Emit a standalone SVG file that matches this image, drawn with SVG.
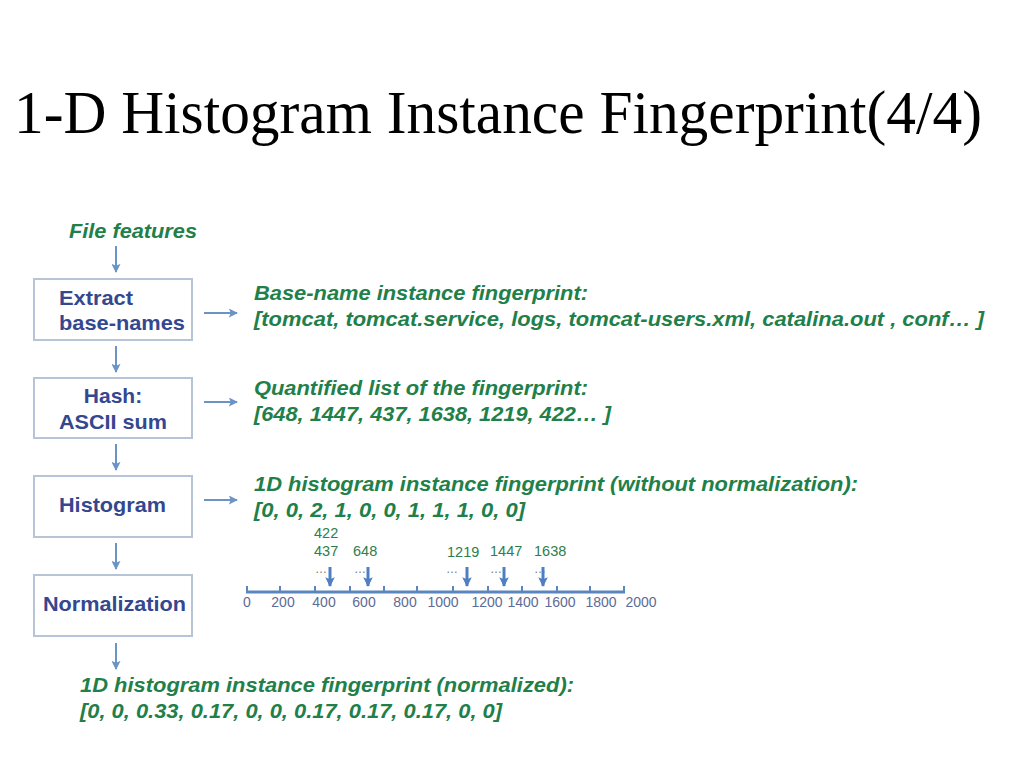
<svg xmlns="http://www.w3.org/2000/svg" width="1024" height="768" viewBox="0 0 1024 768">
<defs>
<marker id="ah" viewBox="0 0 10 10" refX="9" refY="5" markerWidth="4.5" markerHeight="4.5" orient="auto" markerUnits="strokeWidth">
<path d="M0,0 L10,5 L0,10 L2,5 z" fill="#6a93c6"/>
</marker>
<marker id="ah2" viewBox="0 0 10 10" refX="9" refY="5" markerWidth="3.2" markerHeight="3.2" orient="auto" markerUnits="strokeWidth">
<path d="M0,0 L10,5 L0,10 L2,5 z" fill="#4f7fc0"/>
</marker>
</defs>
<style>
.title{font-family:"Liberation Serif","Times New Roman",serif;font-size:61px;fill:#000}
.g{font-family:"Liberation Sans",Arial,sans-serif;font-size:19.5px;font-weight:bold;font-style:italic;fill:#21804a}
.gn{font-family:"Liberation Sans",Arial,sans-serif;font-size:20.5px;font-weight:bold;font-style:italic;fill:#21804a}
.box{fill:#fff;stroke:#b7c4d8;stroke-width:2}
.bl{font-family:"Liberation Sans",Arial,sans-serif;font-size:21px;font-weight:bold;fill:#34478f}
.conn{stroke:#6a93c6;stroke-width:2;fill:none;marker-end:url(#ah)}
.ax{stroke:#5b86bd;stroke-width:3;fill:none}
.tk{stroke:#5b86bd;stroke-width:2}
.al{font-family:"Liberation Sans",Arial,sans-serif;font-size:14px;fill:#5d6b96}
.n{font-family:"Liberation Sans",Arial,sans-serif;font-size:14.5px;fill:#2e7d4c}
.dots{font-family:"Liberation Sans",Arial,sans-serif;font-size:12px;fill:#777}
.sa{stroke:#4f7fc0;stroke-width:3;fill:none;marker-end:url(#ah2)}
</style>
<rect width="1024" height="768" fill="#fff"/>
<text class="title" x="14" y="133" textLength="968" lengthAdjust="spacingAndGlyphs">1-D Histogram Instance Fingerprint(4/4)</text>

<text class="g" x="69" y="238" textLength="128" lengthAdjust="spacingAndGlyphs">File features</text>

<g id="extract">
<rect class="box" x="34" y="279" width="158" height="61"/>
<text class="bl" x="59" y="305" textLength="74" lengthAdjust="spacingAndGlyphs">Extract</text>
<text class="bl" x="59" y="330" textLength="126" lengthAdjust="spacingAndGlyphs">base-names</text>
</g>
<g id="hash">
<rect class="box" x="34" y="378" width="158" height="60"/>
<text class="bl" x="113" y="403" text-anchor="middle">Hash:</text>
<text class="bl" x="59" y="429" textLength="108" lengthAdjust="spacingAndGlyphs">ASCII sum</text>
</g>
<g id="histogram">
<rect class="box" x="34" y="476" width="158" height="61"/>
<text class="bl" x="59" y="512" textLength="107" lengthAdjust="spacingAndGlyphs">Histogram</text>
</g>
<g id="normalization">
<rect class="box" x="34" y="575" width="158" height="61"/>
<text class="bl" x="43" y="611" textLength="143" lengthAdjust="spacingAndGlyphs">Normalization</text>
</g>

<g id="connectors">
<line class="conn" x1="116" y1="246" x2="116" y2="272"/>
<line class="conn" x1="116" y1="346" x2="116" y2="372"/>
<line class="conn" x1="116" y1="444" x2="116" y2="470"/>
<line class="conn" x1="116" y1="543" x2="116" y2="569"/>
<line class="conn" x1="116" y1="643" x2="116" y2="669"/>
<line class="conn" x1="204" y1="313" x2="237" y2="313"/>
<line class="conn" x1="204" y1="402" x2="237" y2="402"/>
<line class="conn" x1="204" y1="500" x2="237" y2="500"/>
</g>

<g id="basename-fp">
<text class="gn" x="254" y="300" textLength="334" lengthAdjust="spacingAndGlyphs">Base-name instance fingerprint:</text>
<text class="gn" x="254" y="326" textLength="730" lengthAdjust="spacingAndGlyphs">[tomcat, tomcat.service, logs, tomcat-users.xml, catalina.out , conf… ]</text>
</g>
<g id="quantified">
<text class="gn" x="254" y="395" textLength="334" lengthAdjust="spacingAndGlyphs">Quantified list of the fingerprint:</text>
<text class="gn" x="254" y="421" textLength="357" lengthAdjust="spacingAndGlyphs">[648, 1447, 437, 1638, 1219, 422… ]</text>
</g>
<g id="hist-fp">
<text class="gn" x="254" y="491" textLength="604" lengthAdjust="spacingAndGlyphs">1D histogram instance fingerprint (without normalization):</text>
<text class="gn" x="254" y="517" textLength="271" lengthAdjust="spacingAndGlyphs">[0, 0, 2, 1, 0, 0, 1, 1, 1, 0, 0]</text>
</g>
<g id="norm-fp">
<text class="g" x="80" y="692" textLength="494" lengthAdjust="spacingAndGlyphs">1D histogram instance fingerprint (normalized):</text>
<text class="g" x="80" y="718" textLength="422" lengthAdjust="spacingAndGlyphs">[0, 0, 0.33, 0.17, 0, 0, 0.17, 0.17, 0.17, 0, 0]</text>
</g>

<g id="axis">
<line class="ax" x1="246" y1="592" x2="625" y2="592"/>
<g class="tk">
<line x1="247" y1="586" x2="247" y2="593"/>
<line x1="280" y1="586" x2="280" y2="593"/>
<line x1="315" y1="586" x2="315" y2="593"/>
<line x1="350" y1="586" x2="350" y2="593"/>
<line x1="384" y1="586" x2="384" y2="593"/>
<line x1="417" y1="586" x2="417" y2="593"/>
<line x1="453" y1="586" x2="453" y2="593"/>
<line x1="488" y1="586" x2="488" y2="593"/>
<line x1="522" y1="586" x2="522" y2="593"/>
<line x1="557" y1="586" x2="557" y2="593"/>
<line x1="590" y1="586" x2="590" y2="593"/>
<line x1="624" y1="586" x2="624" y2="593"/>
</g>
<g class="al" text-anchor="middle">
<text x="247" y="607">0</text>
<text x="283" y="607">200</text>
<text x="324" y="607">400</text>
<text x="364" y="607">600</text>
<text x="405" y="607">800</text>
<text x="443" y="607">1000</text>
<text x="487" y="607">1200</text>
<text x="523" y="607">1400</text>
<text x="560" y="607">1600</text>
<text x="601" y="607">1800</text>
<text x="641" y="607">2000</text>
</g>
<g class="n">
<text x="314" y="538">422</text>
<text x="314" y="556">437</text>
<text x="353" y="556">648</text>
<text x="447" y="557">1219</text>
<text x="490" y="556">1447</text>
<text x="534" y="556">1638</text>
</g>
<g class="dots">
<text x="315" y="573">…</text>
<text x="354" y="573">…</text>
<text x="446" y="573">…</text>
<text x="490" y="573">…</text>
<text x="534" y="573">…</text>
</g>
<line class="sa" x1="330" y1="567" x2="330" y2="586"/>
<line class="sa" x1="368" y1="567" x2="368" y2="586"/>
<line class="sa" x1="467" y1="567" x2="467" y2="586"/>
<line class="sa" x1="504" y1="567" x2="504" y2="586"/>
<line class="sa" x1="543" y1="567" x2="543" y2="586"/>
</g>
</svg>
